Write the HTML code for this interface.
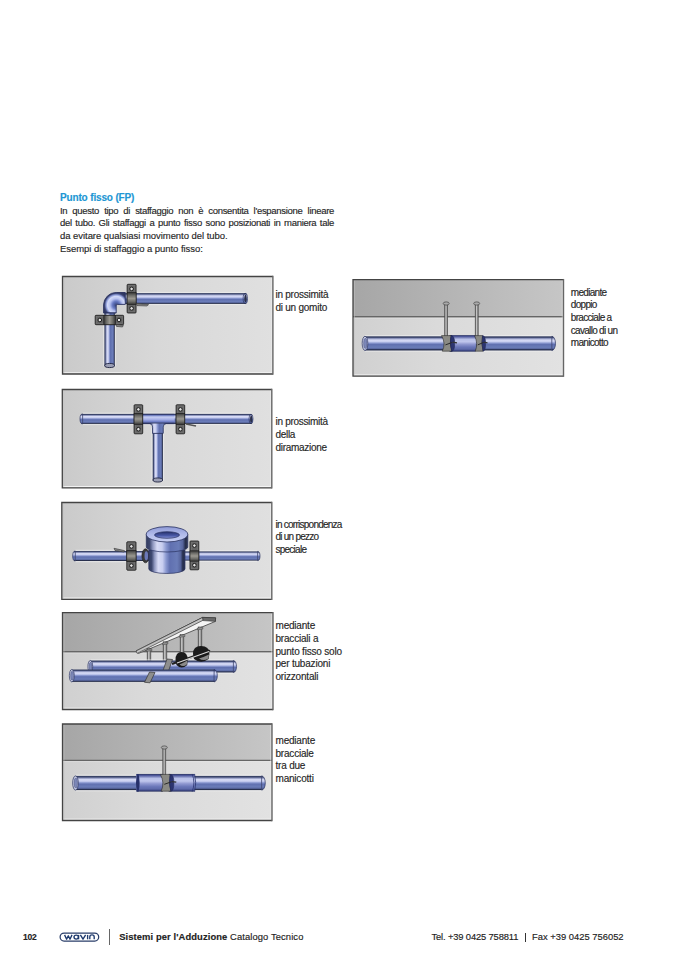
<!DOCTYPE html>
<html><head><meta charset="utf-8">
<style>
html,body{margin:0;padding:0;background:#fff;}
body{width:678px;height:959px;position:relative;overflow:hidden;font-family:"Liberation Sans",sans-serif;color:#262626;}
.t{position:absolute;white-space:nowrap;font-size:9px;line-height:12.6px;letter-spacing:-0.25px;-webkit-text-stroke:0.15px currentColor;}
.j{width:274px;text-align:justify;text-align-last:justify;font-size:9.5px;line-height:12.7px;letter-spacing:-0.3px;white-space:normal;}
.b{font-size:9.5px;line-height:12.7px;letter-spacing:-0.05px;}
.l{font-size:10px;letter-spacing:-0.1px;}
svg{display:block;position:absolute;left:0;top:0;}
</style></head><body>

<div class="t" style="left:60px;top:192.1px;color:#2196d4;font-weight:bold;font-size:10px;line-height:12.7px;letter-spacing:-0.15px;">Punto fisso (FP)</div>
<div class="t j" style="left:60px;top:205px;">In questo tipo di staffaggio non è consentita l'espansione lineare</div>
<div class="t j" style="left:60px;top:217.3px;">del tubo. Gli staffaggi a punto fisso sono posizionati in maniera tale</div>
<div class="t b" style="left:60px;top:230.2px;">da evitare qualsiasi movimento del tubo.</div>
<div class="t b" style="left:60px;top:243.3px;">Esempi di staffaggio a punto fisso:</div>

<div class="t l" style="left:275.5px;top:289.30px;line-height:12px;letter-spacing:-0.25px;">in prossimità</div>
<div class="t l" style="left:275.5px;top:301.50px;line-height:12px;letter-spacing:-0.25px;">di un gomito</div>
<div class="t l" style="left:570.8px;top:286.80px;line-height:12px;letter-spacing:-0.7px;">mediante</div>
<div class="t l" style="left:570.8px;top:299.45px;line-height:12px;letter-spacing:-0.7px;">doppio</div>
<div class="t l" style="left:570.8px;top:312.10px;line-height:12px;letter-spacing:-0.7px;">bracciale a</div>
<div class="t l" style="left:570.8px;top:324.75px;line-height:12px;letter-spacing:-0.7px;">cavallo di un</div>
<div class="t l" style="left:570.8px;top:337.40px;line-height:12px;letter-spacing:-0.7px;">manicotto</div>
<div class="t l" style="left:275.5px;top:416.20px;line-height:12px;letter-spacing:-0.3px;">in prossimità</div>
<div class="t l" style="left:275.5px;top:429.10px;line-height:12px;letter-spacing:-0.3px;">della</div>
<div class="t l" style="left:275.5px;top:442.00px;line-height:12px;letter-spacing:-0.3px;">diramazione</div>
<div class="t l" style="left:275.5px;top:518.80px;line-height:12px;letter-spacing:-0.75px;">in corrispondenza</div>
<div class="t l" style="left:275.5px;top:531.20px;line-height:12px;letter-spacing:-0.75px;">di un pezzo</div>
<div class="t l" style="left:275.5px;top:543.60px;line-height:12px;letter-spacing:-0.75px;">speciale</div>
<div class="t l" style="left:275.5px;top:620.30px;line-height:12px;letter-spacing:-0.2px;">mediante</div>
<div class="t l" style="left:275.5px;top:633.00px;line-height:12px;letter-spacing:-0.2px;">bracciali a</div>
<div class="t l" style="left:275.5px;top:645.70px;line-height:12px;letter-spacing:-0.2px;">punto fisso solo</div>
<div class="t l" style="left:275.5px;top:658.40px;line-height:12px;letter-spacing:-0.2px;">per tubazioni</div>
<div class="t l" style="left:275.5px;top:671.10px;line-height:12px;letter-spacing:-0.2px;">orizzontali</div>
<div class="t l" style="left:275.5px;top:735.30px;line-height:12px;letter-spacing:-0.2px;">mediante</div>
<div class="t l" style="left:275.5px;top:747.85px;line-height:12px;letter-spacing:-0.2px;">bracciale</div>
<div class="t l" style="left:275.5px;top:760.40px;line-height:12px;letter-spacing:-0.2px;">tra due</div>
<div class="t l" style="left:275.5px;top:772.95px;line-height:12px;letter-spacing:-0.2px;">manicotti</div>
<svg width="678" height="959" viewBox="0 0 678 959">
<defs><linearGradient id="bgL" x1="0" y1="0" x2="1" y2="0"><stop offset="0" stop-color="#cacaca"/><stop offset="0.45" stop-color="#d8d8d8"/><stop offset="1" stop-color="#e0e0e0"/></linearGradient><linearGradient id="ceil" x1="0" y1="0" x2="1" y2="0"><stop offset="0" stop-color="#a6a6a6"/><stop offset="1" stop-color="#c6c6c6"/></linearGradient><linearGradient id="floor" x1="0" y1="0" x2="1" y2="0"><stop offset="0" stop-color="#d0d0d0"/><stop offset="0.4" stop-color="#dadada"/><stop offset="1" stop-color="#e2e2e2"/></linearGradient><linearGradient id="pH" x1="0" y1="0" x2="0" y2="1"><stop offset="0" stop-color="#333c5e"/><stop offset="0.08" stop-color="#3e4870"/><stop offset="0.16" stop-color="#9098c0"/><stop offset="0.26" stop-color="#d8dcf6"/><stop offset="0.38" stop-color="#c8cef0"/><stop offset="0.48" stop-color="#8a98d0"/><stop offset="0.58" stop-color="#6070b0"/><stop offset="0.78" stop-color="#6a7cb8"/><stop offset="0.88" stop-color="#56649c"/><stop offset="0.94" stop-color="#262e4c"/><stop offset="1" stop-color="#2e3654"/></linearGradient><linearGradient id="pV" x1="0" y1="0" x2="1" y2="0"><stop offset="0" stop-color="#333c5e"/><stop offset="0.08" stop-color="#3e4870"/><stop offset="0.16" stop-color="#9098c0"/><stop offset="0.26" stop-color="#d8dcf6"/><stop offset="0.38" stop-color="#c8cef0"/><stop offset="0.48" stop-color="#8a98d0"/><stop offset="0.58" stop-color="#6070b0"/><stop offset="0.78" stop-color="#6a7cb8"/><stop offset="0.88" stop-color="#56649c"/><stop offset="0.94" stop-color="#262e4c"/><stop offset="1" stop-color="#2e3654"/></linearGradient><linearGradient id="cH" x1="0" y1="0" x2="0" y2="1"><stop offset="0" stop-color="#2e3660"/><stop offset="0.08" stop-color="#4a5498"/><stop offset="0.25" stop-color="#b8c0e8"/><stop offset="0.4" stop-color="#c0c6ec"/><stop offset="0.55" stop-color="#9098d0"/><stop offset="0.72" stop-color="#6a76b8"/><stop offset="0.85" stop-color="#5e6aaa"/><stop offset="0.93" stop-color="#3c4682"/><stop offset="1" stop-color="#2e3660"/></linearGradient><linearGradient id="clH" x1="0" y1="0" x2="0" y2="1"><stop offset="0" stop-color="#2e2e2e"/><stop offset="0.35" stop-color="#6a6a6a"/><stop offset="0.6" stop-color="#505050"/><stop offset="1" stop-color="#262626"/></linearGradient><linearGradient id="clV" x1="0" y1="0" x2="1" y2="0"><stop offset="0" stop-color="#2e2e2e"/><stop offset="0.35" stop-color="#6a6a6a"/><stop offset="0.6" stop-color="#505050"/><stop offset="1" stop-color="#262626"/></linearGradient><linearGradient id="bandV" x1="0" y1="0" x2="0" y2="1"><stop offset="0" stop-color="#333"/><stop offset="0.22" stop-color="#6a6a66"/><stop offset="0.5" stop-color="#9a9890"/><stop offset="0.78" stop-color="#6a6a66"/><stop offset="1" stop-color="#333"/></linearGradient><linearGradient id="bandH" x1="0" y1="0" x2="1" y2="0"><stop offset="0" stop-color="#333"/><stop offset="0.22" stop-color="#6a6a66"/><stop offset="0.5" stop-color="#9a9890"/><stop offset="0.78" stop-color="#6a6a66"/><stop offset="1" stop-color="#333"/></linearGradient><linearGradient id="tee" x1="0" y1="0" x2="0" y2="1"><stop offset="0" stop-color="#2e3660"/><stop offset="0.12" stop-color="#6070b8"/><stop offset="0.3" stop-color="#c8d0f4"/><stop offset="0.55" stop-color="#a8b2e8"/><stop offset="0.8" stop-color="#6a7ac4"/><stop offset="0.92" stop-color="#3c4672"/><stop offset="1" stop-color="#2e3660"/></linearGradient><radialGradient id="elb" gradientUnits="userSpaceOnUse" cx="116.2" cy="305" r="12.8"><stop offset="0" stop-color="#3c4672"/><stop offset="0.12" stop-color="#4a5a9a"/><stop offset="0.3" stop-color="#6a7cc4"/><stop offset="0.5" stop-color="#b8c2f0"/><stop offset="0.68" stop-color="#d2daf8"/><stop offset="0.8" stop-color="#8896d4"/><stop offset="0.9" stop-color="#404a7a"/><stop offset="1" stop-color="#2e3660"/></radialGradient><linearGradient id="topf" x1="0" y1="0" x2="0" y2="1"><stop offset="0" stop-color="#8e9ad6"/><stop offset="0.5" stop-color="#b0baea"/><stop offset="1" stop-color="#c8d0f4"/></linearGradient><linearGradient id="hole" x1="0" y1="0" x2="0" y2="1"><stop offset="0" stop-color="#26306a"/><stop offset="0.6" stop-color="#4a5aa8"/><stop offset="1" stop-color="#8a96d8"/></linearGradient><linearGradient id="rod" x1="0" y1="0" x2="1" y2="0"><stop offset="0" stop-color="#555"/><stop offset="0.4" stop-color="#c8c8c8"/><stop offset="1" stop-color="#666"/></linearGradient></defs>
<rect x="62.5" y="276.5" width="210.39999999999998" height="97.5" fill="url(#bgL)"/><path d="M63.5,372.7H271.9" stroke="#f6f6f6" stroke-width="0.9"/><path d="M271.7,277.5V373" stroke="#efefef" stroke-width="0.6"/><path d="M63.9,277.5V373" stroke="#c4c4c4" stroke-width="0.8" opacity="0.7"/><path d="M272.9,276.5H62.5V374H272.9" fill="none" stroke="#444" stroke-width="1.3"/><path d="M272.9,275.85V374.65" fill="none" stroke="#666" stroke-width="1.4"/>
<rect x="124" y="291.8" width="121.30000000000001" height="13.4" fill="#f4f4f4" opacity="0.5"/><rect x="124" y="293.1" width="121.30000000000001" height="10.8" fill="url(#pH)"/><ellipse cx="245.3" cy="298.5" rx="2.16" ry="5.4" fill="url(#pH)"/><ellipse cx="245.3" cy="298.5" rx="2.16" ry="5.050000000000001" fill="none" stroke="#2a3260" stroke-width="0.7"/><ellipse cx="245.5" cy="298.5" rx="1.1880000000000002" ry="3.78" fill="#2a2f48"/>
<rect x="103.1" y="312" width="13.0" height="54.30000000000001" fill="#f4f4f4" opacity="0.5"/><rect x="104.39999999999999" y="312" width="10.4" height="54.30000000000001" fill="url(#pV)"/><ellipse cx="109.6" cy="365.5" rx="4.9" ry="2.08" fill="#9a9eb4" stroke="#1e2240" stroke-width="0.9"/>
<path d="M103.6,313 V305 A12.6,12.6 0 0 1 116.2,292.5 H125.3 V304.4 H117.6 Q116.2,304.4 116.2,305.8 V313 Z" fill="url(#elb)" stroke="#2a3260" stroke-width="0.9"/>
<path d="M103.8,312.8 H116" stroke="#2a3260" stroke-width="0.8"/>
<rect x="127.14999999999999" y="284.3" width="8.9" height="28.69999999999999" rx="0.8" fill="#646464" stroke="#1c1c1c" stroke-width="0.85"/><rect x="128.35" y="285.5" width="6.5" height="26.29999999999999" fill="none" stroke="#787878" stroke-width="0.5"/><rect x="127.14999999999999" y="292.5" width="8.9" height="12.0" fill="url(#bandV)" stroke="#1c1c1c" stroke-width="0.6"/><circle cx="131.6" cy="288.90000000000003" r="1.8" fill="#e4e4e4" stroke="#1a1a1a" stroke-width="1"/><circle cx="131.6" cy="308.4" r="1.8" fill="#e4e4e4" stroke="#1a1a1a" stroke-width="1"/>
<path d="M136.3,303.6 L148.6,304.6 L147,306 L137,305.6 Z" fill="#8a8a8a" stroke="#333" stroke-width="0.6"/>
<rect x="95.2" y="315.3" width="28.39999999999999" height="9.4" rx="0.8" fill="#646464" stroke="#1c1c1c" stroke-width="0.85"/><rect x="96.4" y="316.5" width="25.999999999999993" height="7.0" fill="none" stroke="#787878" stroke-width="0.5"/><rect x="103.8" y="315.3" width="11.6" height="9.4" fill="url(#bandH)" stroke="#1c1c1c" stroke-width="0.6"/><circle cx="99.8" cy="320" r="1.8" fill="#e4e4e4" stroke="#1a1a1a" stroke-width="1"/><circle cx="119.0" cy="320" r="1.8" fill="#e4e4e4" stroke="#1a1a1a" stroke-width="1"/>
<path d="M116,324.5 L123.3,325.3 L122.5,327 L116.5,326.4 Z" fill="#8a8a8a" stroke="#333" stroke-width="0.6"/>
<rect x="353" y="279.6" width="210.5" height="96.59999999999997" fill="url(#floor)"/><rect x="353" y="279.6" width="210.5" height="37.19999999999999" fill="url(#ceil)"/><path d="M353,316.8H563.5" stroke="#666" stroke-width="1.4"/><path d="M353,318.1H563.5" stroke="#ececec" stroke-width="0.8" opacity="0.5"/><path d="M354,374.9H562.5" stroke="#f6f6f6" stroke-width="0.9"/><path d="M562.3,280.6V375.2" stroke="#efefef" stroke-width="0.6"/><path d="M354.4,280.6V375.2" stroke="#c4c4c4" stroke-width="0.8" opacity="0.7"/><path d="M563.5,279.6H353V376.2H563.5" fill="none" stroke="#444" stroke-width="1.3"/><path d="M563.5,278.95000000000005V376.84999999999997" fill="none" stroke="#666" stroke-width="1.4"/>
<rect x="365" y="334.99999999999994" width="186.79999999999995" height="16.8" fill="#f4f4f4" opacity="0.5"/><rect x="365" y="336.29999999999995" width="186.79999999999995" height="14.2" fill="url(#pH)"/><ellipse cx="365" cy="343.4" rx="2.84" ry="7.1" fill="#c9cee6" stroke="#2a3260" stroke-width="0.7"/><ellipse cx="365.3" cy="343.4" rx="1.704" ry="5.111999999999999" fill="#7d88b8" stroke="#3a4270" stroke-width="0.4"/><path d="M551.8,336.29999999999995 A3.6919999999999997,7.1 0 0 1 551.8,350.5Z" fill="url(#pH)" stroke="#2a3260" stroke-width="0.7"/>
<rect x="444.7" y="303.5" width="3.0" height="33.5" fill="url(#rod)" stroke="#4a4a4a" stroke-width="0.6"/><ellipse cx="446.2" cy="303.5" rx="3.0" ry="1.6" fill="#aaa" stroke="#444" stroke-width="0.7"/>
<rect x="475.2" y="303.5" width="3.0" height="33.5" fill="url(#rod)" stroke="#4a4a4a" stroke-width="0.6"/><ellipse cx="476.7" cy="303.5" rx="3.0" ry="1.6" fill="#aaa" stroke="#444" stroke-width="0.7"/>
<rect x="449.5" y="335.09999999999997" width="26.19999999999999" height="16.6" fill="url(#cH)"/><path d="M450.5,335.09999999999997 Q448.1,343.4 450.5,351.7 L451.9,351.7 Q453.9,343.4 451.9,335.09999999999997 Z" fill="#26306a"/>
<path d="M441.5,335.59999999999997 L451.11,335.59999999999997 Q449.25,343.4 451.73,351.2 L442.3,351.2 Q446.15,343.4 441.5,335.59999999999997 Z" fill="#8a8a84" stroke="#2a2a2a" stroke-width="0.6"/><path d="M451.11,335.59999999999997 Q454.675,335.59999999999997 454.675,343.4 Q454.675,351.2 451.73,351.2 Q449.25,343.4 451.11,335.59999999999997 Z" fill="#2c3470" stroke="#1e2450" stroke-width="0.5"/><path d="M445.375,344.9 L452.35,342.4" stroke="#2a2a2a" stroke-width="1"/><path d="M452.66,342.2 L457,342.79999999999995" stroke="#333" stroke-width="1.2"/>
<path d="M474.5,335.59999999999997 L482.56,335.59999999999997 Q481.0,343.4 483.08,351.2 L475.3,351.2 Q478.4,343.4 474.5,335.59999999999997 Z" fill="#8a8a84" stroke="#2a2a2a" stroke-width="0.6"/><path d="M482.56,335.59999999999997 Q485.55,335.59999999999997 485.55,343.4 Q485.55,351.2 483.08,351.2 Q481.0,343.4 482.56,335.59999999999997 Z" fill="#2c3470" stroke="#1e2450" stroke-width="0.5"/><path d="M477.75,344.9 L483.6,342.4" stroke="#2a2a2a" stroke-width="1"/><path d="M483.86,342.2 L487.5,342.79999999999995" stroke="#333" stroke-width="1.2"/>
<rect x="62.3" y="389.5" width="209.5" height="98.30000000000001" fill="url(#bgL)"/><path d="M63.3,486.5H270.8" stroke="#f6f6f6" stroke-width="0.9"/><path d="M270.6,390.5V486.8" stroke="#efefef" stroke-width="0.6"/><path d="M63.699999999999996,390.5V486.8" stroke="#c4c4c4" stroke-width="0.8" opacity="0.7"/><path d="M271.8,389.5H62.3V487.8H271.8" fill="none" stroke="#444" stroke-width="1.3"/><path d="M271.8,388.85V488.45" fill="none" stroke="#666" stroke-width="1.4"/>
<rect x="82.6" y="412.59999999999997" width="168.4" height="12.6" fill="#f4f4f4" opacity="0.5"/><rect x="82.6" y="413.9" width="168.4" height="10" fill="url(#pH)"/><path d="M82.6,413.9 A2.6,5.0 0 0 0 82.6,423.9Z" fill="url(#pH)" stroke="#2a3260" stroke-width="0.7"/><ellipse cx="251" cy="418.9" rx="2.0" ry="5.0" fill="url(#pH)"/><ellipse cx="251" cy="418.9" rx="2.0" ry="4.65" fill="none" stroke="#2a3260" stroke-width="0.7"/><ellipse cx="251.2" cy="418.9" rx="1.1" ry="3.5" fill="#2a2f48"/>
<rect x="151.4" y="433" width="12.799999999999999" height="47.80000000000001" fill="#f4f4f4" opacity="0.5"/><rect x="152.70000000000002" y="433" width="10.2" height="47.80000000000001" fill="url(#pV)"/><ellipse cx="157.8" cy="480.0" rx="4.8" ry="2.04" fill="#9a9eb4" stroke="#1e2240" stroke-width="0.9"/>
<rect x="151.1" y="428" width="13.4" height="5.399999999999977" fill="#f4f4f4" opacity="0.5"/><rect x="152.4" y="428" width="10.8" height="5.399999999999977" fill="url(#pV)"/>
<rect x="142.3" y="414" width="32.3" height="9.8" fill="url(#tee)"/>
<path d="M149.5,423.4 Q152.6,423.6 152.6,427 L152.6,433.3 L163.2,433.3 L163.2,427 Q163.2,423.6 166.3,423.4 Z" fill="url(#pV)"/>
<path d="M142.3,423.7 H149.5 Q152.6,423.8 152.6,427 V433.3 M174.6,423.7 H166.3 Q163.2,423.8 163.2,427 V433.3 M142.3,414.2 H174.6" fill="none" stroke="#2a3260" stroke-width="0.8"/>
<path d="M152.6,433.4 H163.2" stroke="#2a3260" stroke-width="0.9"/>
<rect x="134.1" y="404.8" width="8.6" height="29.0" rx="0.8" fill="#646464" stroke="#1c1c1c" stroke-width="0.85"/><rect x="135.29999999999998" y="406.0" width="6.199999999999999" height="26.6" fill="none" stroke="#787878" stroke-width="0.5"/><rect x="134.1" y="413.29999999999995" width="8.6" height="11.2" fill="url(#bandV)" stroke="#1c1c1c" stroke-width="0.6"/><circle cx="138.4" cy="409.40000000000003" r="1.8" fill="#e4e4e4" stroke="#1a1a1a" stroke-width="1"/><circle cx="138.4" cy="429.2" r="1.8" fill="#e4e4e4" stroke="#1a1a1a" stroke-width="1"/>
<rect x="176.1" y="404.8" width="8.6" height="29.0" rx="0.8" fill="#646464" stroke="#1c1c1c" stroke-width="0.85"/><rect x="177.29999999999998" y="406.0" width="6.199999999999999" height="26.6" fill="none" stroke="#787878" stroke-width="0.5"/><rect x="176.1" y="413.29999999999995" width="8.6" height="11.2" fill="url(#bandV)" stroke="#1c1c1c" stroke-width="0.6"/><circle cx="180.4" cy="409.40000000000003" r="1.8" fill="#e4e4e4" stroke="#1a1a1a" stroke-width="1"/><circle cx="180.4" cy="429.2" r="1.8" fill="#e4e4e4" stroke="#1a1a1a" stroke-width="1"/>
<path d="M186,424 L196,426" stroke="#555" stroke-width="1.6"/>
<rect x="61.8" y="502.5" width="210.0" height="96.79999999999995" fill="url(#bgL)"/><path d="M62.8,598.0H270.8" stroke="#f6f6f6" stroke-width="0.9"/><path d="M270.6,503.5V598.3" stroke="#efefef" stroke-width="0.6"/><path d="M63.199999999999996,503.5V598.3" stroke="#c4c4c4" stroke-width="0.8" opacity="0.7"/><path d="M271.8,502.5H61.8V599.3H271.8" fill="none" stroke="#444" stroke-width="1.3"/><path d="M271.8,501.85V599.9499999999999" fill="none" stroke="#666" stroke-width="1.4"/>
<rect x="75.3" y="549.7" width="74.7" height="12.6" fill="#f4f4f4" opacity="0.5"/><rect x="75.3" y="551.0" width="74.7" height="10" fill="url(#pH)"/><path d="M75.3,551.0 A2.6,5.0 0 0 0 75.3,561.0Z" fill="url(#pH)" stroke="#2a3260" stroke-width="0.7"/>
<rect x="183" y="550.1" width="74.60000000000002" height="11.799999999999999" fill="#f4f4f4" opacity="0.5"/><rect x="183" y="551.4" width="74.60000000000002" height="9.2" fill="url(#pH)"/><path d="M257.6,551.4 A2.392,4.6 0 0 1 257.6,560.6Z" fill="url(#pH)" stroke="#2a3260" stroke-width="0.7"/>
<path d="M114,548.3 L124.5,550.6 L124,552 L115,550.5 Z" fill="#8a8a8a" stroke="#333" stroke-width="0.6"/>
<rect x="126.80000000000001" y="541.8" width="9.2" height="28.40000000000009" rx="0.8" fill="#646464" stroke="#1c1c1c" stroke-width="0.85"/><rect x="128.0" y="543.0" width="6.799999999999999" height="26.000000000000092" fill="none" stroke="#787878" stroke-width="0.5"/><rect x="126.80000000000001" y="550.4" width="9.2" height="11.2" fill="url(#bandV)" stroke="#1c1c1c" stroke-width="0.6"/><circle cx="131.4" cy="546.4" r="1.8" fill="#e4e4e4" stroke="#1a1a1a" stroke-width="1"/><circle cx="131.4" cy="565.6" r="1.8" fill="#e4e4e4" stroke="#1a1a1a" stroke-width="1"/>
<ellipse cx="145.5" cy="555.8" rx="3.6" ry="7" fill="#3a3a3a" stroke="#1e1e1e" stroke-width="0.6"/><ellipse cx="146.3" cy="555.8" rx="1.8" ry="4.6" fill="#6a78b8"/><path d="M149.2,551 L152,551 L152,561 L149.2,561 Z" fill="#f2f2f2"/>
<path d="M148.8,550 L148.8,569 A18.1,4.5 0 0 0 185,569 L185,550 Z" fill="url(#pV)" stroke="#2a3260" stroke-width="0.7"/>
<path d="M146.3,534.3 L146.3,547 A20.75,5 0 0 0 187.8,547 L187.8,534.3 Z" fill="url(#pV)" stroke="#2a3260" stroke-width="0.7"/>
<ellipse cx="167" cy="534.3" rx="20.75" ry="7.7" fill="url(#topf)" stroke="#2a3260" stroke-width="0.8"/>
<ellipse cx="167" cy="535" rx="12.5" ry="3.3" fill="url(#hole)" stroke="#2a3260" stroke-width="0.7"/>
<rect x="190.0" y="541" width="8.8" height="28.799999999999955" rx="0.8" fill="#646464" stroke="#1c1c1c" stroke-width="0.85"/><rect x="191.2" y="542.2" width="6.4" height="26.399999999999956" fill="none" stroke="#787878" stroke-width="0.5"/><rect x="190.0" y="550.8" width="8.8" height="10.399999999999999" fill="url(#bandV)" stroke="#1c1c1c" stroke-width="0.6"/><circle cx="194.4" cy="545.6" r="1.8" fill="#e4e4e4" stroke="#1a1a1a" stroke-width="1"/><circle cx="194.4" cy="565.1999999999999" r="1.8" fill="#e4e4e4" stroke="#1a1a1a" stroke-width="1"/>
<rect x="62.5" y="612.6" width="210.5" height="96.89999999999998" fill="url(#floor)"/><rect x="62.5" y="612.6" width="210.5" height="39.10000000000002" fill="url(#ceil)"/><path d="M62.5,651.7H273" stroke="#666" stroke-width="1.4"/><path d="M62.5,653.0H273" stroke="#ececec" stroke-width="0.8" opacity="0.5"/><path d="M63.5,708.2H272" stroke="#f6f6f6" stroke-width="0.9"/><path d="M271.8,613.6V708.5" stroke="#efefef" stroke-width="0.6"/><path d="M63.9,613.6V708.5" stroke="#c4c4c4" stroke-width="0.8" opacity="0.7"/><path d="M273,612.6H62.5V709.5H273" fill="none" stroke="#444" stroke-width="1.3"/><path d="M273,611.95V710.15" fill="none" stroke="#666" stroke-width="1.4"/>
<path d="M136,651 L202.6,617.4 L215.6,617.8 L215.4,621.4 L138.6,653.4 Z" fill="#f4f4f4" stroke="#3a3a3a" stroke-width="0.8"/>
<path d="M136,651 L202.6,617.4 L203.2,620.2 L137.2,653.4 Z" fill="#c4c4c4" stroke="#3a3a3a" stroke-width="0.7"/>
<path d="M202.6,617.4 L215.6,617.8 L215.4,621.4 L203.2,620.6 Z" fill="#6a6a6a" stroke="#333" stroke-width="0.6"/>
<rect x="147.15" y="648.5" width="3.7" height="12.5" fill="url(#rod)" stroke="#4a4a4a" stroke-width="0.6"/>
<path d="M146.3,649.8 L151.7,648.8 L152,650.6 L146.6,651.4 Z" fill="#9a9a9a" stroke="#3a3a3a" stroke-width="0.5"/>
<rect x="163.15" y="641.8" width="3.7" height="19.200000000000045" fill="url(#rod)" stroke="#4a4a4a" stroke-width="0.6"/>
<path d="M162.3,643.2 L167.7,642 L168,643.8 L162.6,644.8 Z" fill="#9a9a9a" stroke="#3a3a3a" stroke-width="0.5"/>
<rect x="90.3" y="659.2" width="143.10000000000002" height="14.6" fill="#f4f4f4" opacity="0.5"/><rect x="90.3" y="660.5" width="143.10000000000002" height="12" fill="url(#pH)"/><ellipse cx="90.3" cy="666.5" rx="2.4000000000000004" ry="6.0" fill="#c9cee6" stroke="#2a3260" stroke-width="0.7"/><ellipse cx="90.6" cy="666.5" rx="1.4400000000000002" ry="4.32" fill="#7d88b8" stroke="#3a4270" stroke-width="0.4"/><path d="M233.4,660.5 A3.1200000000000006,6.0 0 0 1 233.4,672.5Z" fill="url(#pH)" stroke="#2a3260" stroke-width="0.7"/>
<rect x="180.15" y="634.5" width="3.7" height="19.5" fill="url(#rod)" stroke="#4a4a4a" stroke-width="0.6"/>
<path d="M179.3,635.8 L184.7,634.6 L185,636.4 L179.6,637.4 Z" fill="#9a9a9a" stroke="#3a3a3a" stroke-width="0.5"/>
<rect x="198.15" y="627" width="3.7" height="20" fill="url(#rod)" stroke="#4a4a4a" stroke-width="0.6"/>
<path d="M197.3,628.3 L202.7,627.1 L203,628.9 L197.6,629.9 Z" fill="#9a9a9a" stroke="#3a3a3a" stroke-width="0.5"/>
<path d="M172,664 L196,655.5" stroke="#222" stroke-width="2.2"/>
<path d="M175.5,660 Q175.5,652 181.5,652 Q187.7,652 187.7,660 L187.2,665 Q181.5,670 176.5,665 Z" fill="#1a1a1a"/>
<path d="M179.5,664.5 Q183,667.5 186.8,664.5 L187.4,660.5 Q183,663 179.5,664.5 Z" fill="#8a8a8a"/>
<path d="M193,654 Q193,646 201,646 Q209.4,646 209.4,654 L208.6,659 Q201,664.5 194,659 Z" fill="#1a1a1a"/>
<path d="M199,658.5 Q203.5,661.5 208.4,658.5 L209,654.5 Q204,657 199,658.5 Z" fill="#8a8a8a"/>
<path d="M205,648.5 L210.5,650.2 L207.5,652.5 Z" fill="#1a1a1a"/>
<path d="M177,663 L209,651.5" stroke="#d8d8d8" stroke-width="1.1"/>
<path d="M167,659 L172.5,659.5 L168,672.5 L162.5,672 Z" fill="#8e8e8e" stroke="#333" stroke-width="0.7"/>
<rect x="71.8" y="669.5" width="142.3" height="12.4" fill="url(#pH)"/><ellipse cx="71.8" cy="675.7" rx="2.4800000000000004" ry="6.2" fill="#c9cee6" stroke="#2a3260" stroke-width="0.7"/><ellipse cx="72.1" cy="675.7" rx="1.4880000000000002" ry="4.4639999999999995" fill="#7d88b8" stroke="#3a4270" stroke-width="0.4"/><path d="M214.1,669.5 A3.2240000000000006,6.2 0 0 1 214.1,681.9000000000001Z" fill="url(#pH)" stroke="#2a3260" stroke-width="0.7"/>
<path d="M149.5,672 L155,672.5 L150,682.8 L144.5,682.3 Z" fill="#8e8e8e" stroke="#333" stroke-width="0.7"/>
<rect x="62.5" y="724" width="209.5" height="96.5" fill="url(#floor)"/><rect x="62.5" y="724" width="209.5" height="36.39999999999998" fill="url(#ceil)"/><path d="M62.5,760.4H272" stroke="#666" stroke-width="1.4"/><path d="M62.5,761.6999999999999H272" stroke="#ececec" stroke-width="0.8" opacity="0.5"/><path d="M63.5,819.2H271" stroke="#f6f6f6" stroke-width="0.9"/><path d="M270.8,725V819.5" stroke="#efefef" stroke-width="0.6"/><path d="M63.9,725V819.5" stroke="#c4c4c4" stroke-width="0.8" opacity="0.7"/><path d="M272,724H62.5V820.5H272" fill="none" stroke="#444" stroke-width="1.3"/><path d="M272,723.35V821.15" fill="none" stroke="#666" stroke-width="1.4"/>
<rect x="75.5" y="774.6" width="186.10000000000002" height="16.8" fill="#f4f4f4" opacity="0.5"/><rect x="75.5" y="775.9" width="186.10000000000002" height="14.2" fill="url(#pH)"/><ellipse cx="75.5" cy="783" rx="2.84" ry="7.1" fill="#c9cee6" stroke="#2a3260" stroke-width="0.7"/><ellipse cx="75.8" cy="783" rx="1.704" ry="5.111999999999999" fill="#7d88b8" stroke="#3a4270" stroke-width="0.4"/><path d="M261.6,775.9 A3.6919999999999997,7.1 0 0 1 261.6,790.1Z" fill="url(#pH)" stroke="#2a3260" stroke-width="0.7"/>
<rect x="162.8" y="747.5" width="3.0" height="28.5" fill="url(#rod)" stroke="#4a4a4a" stroke-width="0.6"/><ellipse cx="164.3" cy="747.5" rx="3.0" ry="1.6" fill="#aaa" stroke="#444" stroke-width="0.7"/>
<rect x="136.2" y="773.9499999999999" width="26.600000000000023" height="17.7" fill="url(#cH)"/><path d="M137.2,773.9499999999999 Q134.79999999999998,782.8 137.2,791.65 L138.6,791.65 Q140.6,782.8 138.6,773.9499999999999 Z" fill="#26306a"/>
<rect x="168.7" y="773.9499999999999" width="25.900000000000006" height="17.7" fill="url(#cH)"/><path d="M192.2,773.9499999999999 Q195.6,782.8 192.2,791.65" fill="none" stroke="#2a3470" stroke-width="0.8"/><path d="M194.6,773.9499999999999 Q196.79999999999998,782.8 194.6,791.65" fill="none" stroke="#2a3470" stroke-width="0.8"/>
<path d="M160.3,774.4 L170.22,774.4 Q168.3,782.8 170.86,791.1999999999999 L161.10000000000002,791.1999999999999 Q165.10000000000002,782.8 160.3,774.4 Z" fill="#8a8a84" stroke="#2a2a2a" stroke-width="0.6"/><path d="M170.22,774.4 Q173.9,774.4 173.9,782.8 Q173.9,791.1999999999999 170.86,791.1999999999999 Q168.3,782.8 170.22,774.4 Z" fill="#2c3470" stroke="#1e2450" stroke-width="0.5"/><path d="M164.3,784.3 L171.5,781.8" stroke="#2a2a2a" stroke-width="1"/><path d="M171.82000000000002,781.5999999999999 L176.3,782.1999999999999" stroke="#333" stroke-width="1.2"/>
</svg>
<div class="t" style="left:23px;top:931px;font-weight:bold;font-size:8.5px;color:#222;">102</div>
<svg width="678" height="959" viewBox="0 0 678 959" style="position:absolute;left:0;top:0">
<rect x="60.1" y="933" width="38.6" height="8" rx="4" fill="none" stroke="#2a3e6a" stroke-width="1.25"/>
<g fill="none" stroke="#1e3a6e" stroke-width="1.35" stroke-linejoin="round" stroke-linecap="butt"><path d="M64.6,934.9 L66.6,939.2 L68.3,935.8 L70,939.2 L72,934.9"/><path d="M78.6,934.9 V939.3"/><ellipse cx="76.2" cy="937.1" rx="2.2" ry="2.05"/><path d="M80.4,934.9 L83,939.2 L85.6,934.9"/><path d="M87.6,934.9 V939.3"/><path d="M89.8,939.3 V936.9 Q89.8,934.9 92,934.9 Q94.2,934.9 94.2,936.9 V939.3"/></g>
</svg>
<div style="position:absolute;left:109.2px;top:929px;width:1px;height:16px;background:#666;"></div>
<div class="t" style="left:119.2px;top:931.4px;font-size:9.4px;line-height:12px;color:#222;letter-spacing:0.1px;"><b>Sistemi per l'Adduzione</b> Catalogo Tecnico</div>
<div class="t" style="left:431.5px;top:931.4px;font-size:9.4px;line-height:12px;color:#222;letter-spacing:-0.15px;">Tel. +39 0425 758811</div>
<div style="position:absolute;left:525.4px;top:933px;width:1px;height:9px;background:#333;"></div>
<div class="t" style="left:532.1px;top:931.4px;font-size:9.4px;line-height:12px;color:#222;letter-spacing:0px;">Fax +39 0425 756052</div>

</body></html>
